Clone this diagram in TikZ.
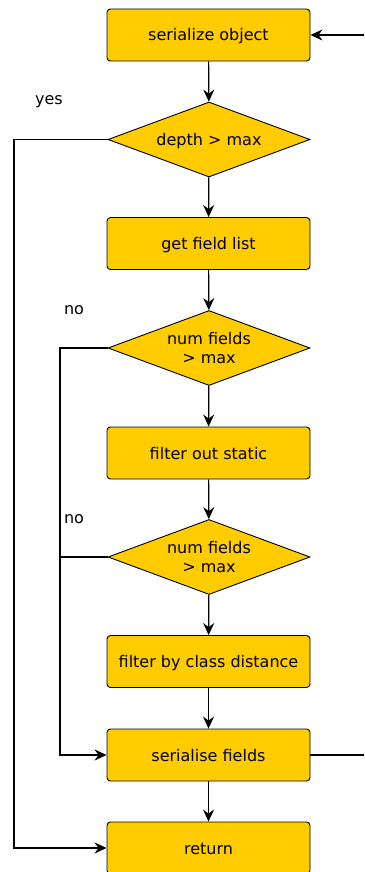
\documentclass[tikz,border=0pt]{standalone}
\usepackage{fontspec}
\setmainfont{DejaVu Sans}
\usetikzlibrary{shapes.geometric,arrows.meta}
\definecolor{boxfill}{RGB}{255,204,0}
\tikzset{
  stepbox/.style={draw=black, fill=boxfill, rounded corners=3.5pt, line width=0.9pt,
    minimum width=203pt, minimum height=52pt, inner sep=0pt,
    text height=12pt, text depth=0pt, font=\fontsize{16}{18}\selectfont},
  decision/.style={draw=black, fill=boxfill, diamond, shape aspect=2.7, line width=0.9pt,
    inner sep=-14pt, minimum width=202pt, minimum height=75pt, align=center,
    font=\fontsize{16}{19}\selectfont},
  oneline/.style={text height=11.5pt, text depth=0pt},
  flow/.style={line width=1.2pt, -{Stealth[length=12pt,width=11pt,inset=4pt]}},
  plain/.style={line width=1.2pt},
  lbl/.style={font=\fontsize{16}{18}\selectfont, inner sep=0pt, anchor=base}
}
\begin{document}
\begin{tikzpicture}[x=1pt,y=-1pt]
\useasboundingbox (0,0) rectangle (364,872);

\node[stepbox]  (ser)   at (208.5,35)    {serialize object};
\node[decision, oneline] (depth) at (209,139.5) {depth > max};
\node[stepbox]  (get)   at (208.5,243.5) {get field list};
\node[decision] (num1)  at (209,348)     {num fields\\> max};
\node[stepbox]  (filt)  at (208.5,453)   {filter out static};
\node[decision] (num2)  at (209,557)     {num fields\\> max};
\node[stepbox]  (dist)  at (208.5,661.5) {filter by class distance};
\node[stepbox]  (sf)    at (208.5,755)   {serialise fields};
\node[stepbox]  (ret)   at (208.5,848)   {return};

\node[lbl] (yes) at (49,104.5) {yes};
\node[lbl] (no1) at (74,314)   {no};
\node[lbl] (no2) at (74,523.3) {no};

% main column
\draw[flow] (ser) -- (depth);
\draw[flow] (depth) -- (get);
\draw[flow] (get) -- (num1);
\draw[flow] (num1) -- (filt);
\draw[flow] (filt) -- (num2);
\draw[flow] (num2) -- (dist);
\draw[flow] (dist) -- (sf);
\draw[flow] (sf) -- (ret);

% side branches
\draw[flow] (depth.west) -| (14,800) |- (ret.west);
\draw[flow] (num1.west) -| (60,700) |- (sf.west);
\draw[plain] (num2.west) -- (60,557);

% loop back through the right edge
\coordinate (outR) at (364,755);
\coordinate (inR)  at (364,35);
\draw[plain] (sf.east) -- (outR);
\draw[flow] (inR) -- (ser.east);
\end{tikzpicture}
\end{document}
